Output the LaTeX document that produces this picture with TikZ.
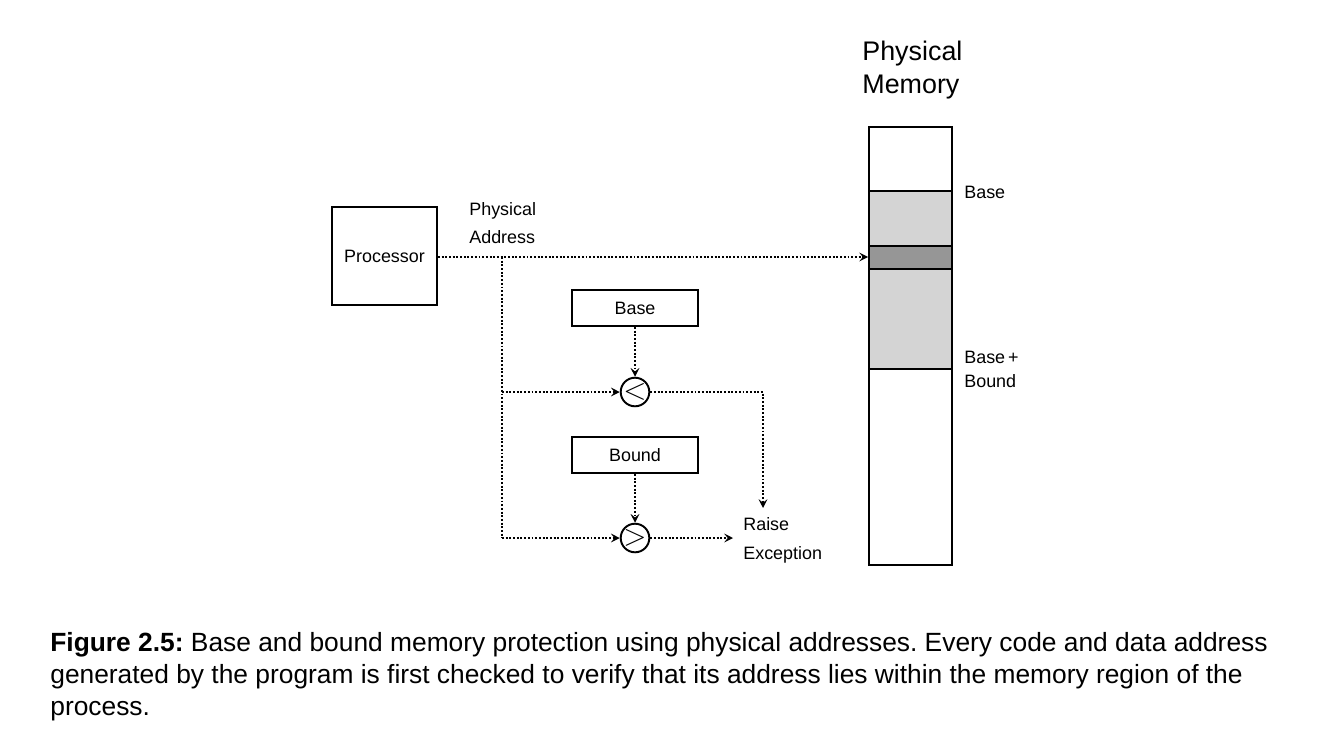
\documentclass[tikz,border=0pt]{standalone}
\usepackage{fontspec}
\setmainfont{Liberation Sans}
\usepackage{xcolor}
\usetikzlibrary{arrows.meta,positioning,calc}

\definecolor{rangegray}{RGB}{212,212,212}
\definecolor{hitgray}{RGB}{150,150,150}

\begin{document}
\frenchspacing
\begin{tikzpicture}[
        x=0.02cm, y=-0.02cm,
        box/.style={rectangle, draw, line width=1.1pt, fill=white, font=\fontsize{10.2}{12}\selectfont},
        cmp/.style={circle, draw, line width=1.1pt, minimum size=0.56cm, inner sep=0pt, font=\fontsize{17}{17}\selectfont},
        label/.style={align=left, inner sep=0pt, font=\fontsize{10.2}{16.4}\selectfont},
        flow/.style={draw, line width=1.1pt, dash pattern=on 1.1pt off 1pt, -{Stealth[length=5pt,width=5pt,inset=2pt]}},
        link/.style={draw, line width=1.1pt, dash pattern=on 1.1pt off 1pt},
        band/.style={draw, line width=1.1pt}
    ]
    \useasboundingbox (0,0) rectangle (1339,747);

    % Processor and bound registers
    \node [box, minimum width=2.1cm, minimum height=1.96cm] (proc) at (384.5,256) {Processor};
    \node [box, minimum width=2.52cm, minimum height=0.72cm] (base) at (635,308) {Base};
    \node [box, minimum width=2.52cm, minimum height=0.72cm] (bound) at (635,455) {Bound};

    % Comparators
    \node [cmp] (lt) at (635,392) {$<$};
    \node [cmp] (gt) at (635,538) {$>$};

    % Physical memory
    \node [align=left, anchor=west, inner sep=0pt, font=\fontsize{15.3}{18.6}\selectfont] (title) at (862,70) {Physical\\Memory};
    \fill [rangegray] (869,191) rectangle (952,369);
    \fill [hitgray] (869,246) rectangle (952,269);
    \draw [band] (869,191) -- (952,191);
    \draw [band] (869,246) -- (952,246);
    \draw [band] (869,269) -- (952,269);
    \draw [band] (869,369) -- (952,369);
    \node [rectangle, draw, line width=1.1pt, minimum width=1.66cm, minimum height=8.76cm] (mem) at (910.5,346) {};
    \node [label, anchor=west] (baselbl) at (964,192) {Base};
    \node [label, anchor=west, font=\fontsize{10.2}{13.6}\selectfont] (limitlbl) at (964,369) {Base\,+\\Bound};

    % Labels
    \node [label, anchor=west] (addr) at (469,223) {Physical\\Address};
    \node [label, anchor=west] (raise) at (743,540) {Raise\\Exception};

    % Coordinates
    \coordinate (split) at (502,257);
    \coordinate (exc) at (763,508);
    \coordinate (exit) at (733,538);

    % Connections
    \path [flow] (proc.east |- split) -- (split -| mem.west);
    \path [link] (split) -- (split |- gt);
    \path [flow] (split |- lt) -- (lt.west);
    \path [flow] (split |- gt) -- (gt.west);
    \path [flow] (base) -- (lt);
    \path [flow] (bound) -- (gt);
    \path [flow] (lt) -| (exc);
    \path [flow] (gt) -- (exit);

    % Caption
    \node [anchor=north west, align=left, inner sep=0pt, font=\fontsize{15}{18.1}\selectfont] (caption) at (50,632)
        {\textbf{Figure 2.5:} Base and bound memory protection using physical addresses. Every code and data address\\
         generated by the program is first checked to verify that its address lies within the memory region of the\\
         process.};
\end{tikzpicture}
\end{document}
